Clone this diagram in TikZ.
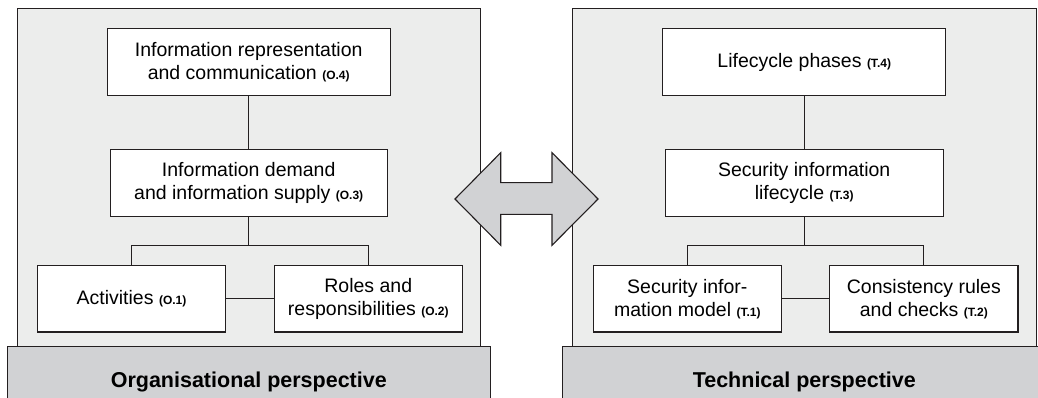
\documentclass[tikz,border=0pt]{standalone}
\usepackage{fontspec}
\setmainfont{Liberation Sans}
\definecolor{panelgray}{HTML}{ECEDEC}
\definecolor{bandgray}{HTML}{D1D2D4}
\definecolor{inkline}{HTML}{231F20}
\newcommand{\lbl}[1]{{\fontsize{12}{14}\selectfont\bfseries #1}}
\tikzset{
  panel/.style={draw=inkline, line width=1.1pt, fill=panelgray},
  band/.style={draw=inkline, line width=1.1pt, fill=bandgray},
  ibox/.style={draw=inkline, line width=1.1pt, fill=white, inner sep=0pt, align=center,
     font=\fontsize{19.5}{23}\selectfont},
  conn/.style={draw=inkline, line width=1.1pt},
  bandtext/.style={font=\fontsize{21.5}{24}\selectfont\bfseries, inner sep=0pt},
  bigarrow/.style={draw=inkline, line width=1.1pt, fill=bandgray, line join=miter}
}
\begin{document}
\begin{tikzpicture}[x=1pt,y=-1pt]
\useasboundingbox (0,0) rectangle (1038,398);
\clip (0,0) rectangle (1038,398);
% panels
\path[panel] (17.3,8.3) rectangle (480.3,346.7);
\path[panel] (572.3,8.3) rectangle (1036.3,346.7);
% bands
\path[band] (7.3,346.7) rectangle (490.3,402);
\path[band] (562.3,346.7) rectangle (1046.3,402);
\node[bandtext] (ob) at (248.8,381.7) {Organisational perspective};
\node[bandtext] (tb) at (804.3,381.7) {Technical perspective};
% left boxes
\node[ibox, minimum width=282.7pt, minimum height=67pt] (o4) at (248.7,62.2)
  {Information representation\\and communication \lbl{(O.4)}};
\node[ibox, minimum width=277.3pt, minimum height=67.4pt] (o3) at (248.7,183)
  {Information demand\\and information supply \lbl{(O.3)}};
\node[ibox, minimum width=187.6pt, minimum height=66.3pt] (o1) at (131.5,298.85)
  {Activities \lbl{(O.1)}};
\node[ibox, minimum width=188pt, minimum height=66.3pt] (o2) at (368.3,298.85)
  {Roles and\\responsibilities \lbl{(O.2)}};
\coordinate (obr) at (248.7,245.7);
\draw[conn] (o4) -- (o3);
\draw[conn] (o3) -- (obr);
\draw[conn] (o1.north) |- (obr) -| (o2.north);
\draw[conn] (o1) -- (o2);
% right boxes
\node[ibox, minimum width=283.4pt, minimum height=67pt] (t4) at (804.2,62.2)
  {Lifecycle phases \lbl{(T.4)}};
\node[ibox, minimum width=278.3pt, minimum height=67.4pt] (t3) at (804.2,183)
  {Security information\\lifecycle \lbl{(T.3)}};
\node[ibox, minimum width=188pt, minimum height=66.3pt] (t1) at (687.3,298.85)
  {Security infor-\\mation model \lbl{(T.1)}};
\node[ibox, minimum width=188.3pt, minimum height=66.3pt] (t2) at (923.85,298.85)
  {Consistency rules\\and checks \lbl{(T.2)}};
\coordinate (tbr) at (804.2,245.7);
\draw[conn] (t4) -- (t3);
\draw[conn] (t3) -- (tbr);
\draw[conn] (t1.north) |- (tbr) -| (t2.north);
\draw[conn] (t1) -- (t2);
% double arrow
\path[bigarrow] (455,199) -- (500.7,152.7) -- (500.7,182.7) -- (552,182.7) -- (552,152.7)
  -- (598,199) -- (552,245.3) -- (552,214.3) -- (500.7,214.3) -- (500.7,245.3) -- cycle;
\end{tikzpicture}
\end{document}
